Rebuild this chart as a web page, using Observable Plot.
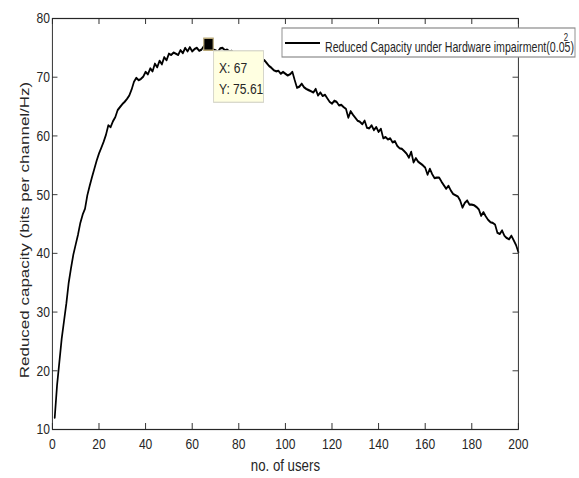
<!DOCTYPE html>
<html><head><meta charset="utf-8">
<script src="https://cdn.jsdelivr.net/npm/d3@7"></script>
<script src="https://cdn.jsdelivr.net/npm/@observablehq/plot@0.6"></script>
<style>
body{margin:0;background:#fff;}
#chart svg{display:block;}
</style></head><body><div id="chart"></div>
<script>
const users = [1,2,3,4,5,6,7,8,9,10,11,12,13,14,15,16,17,18,19,20,21,22,23,24,25,26,27,28,29,30,31,32,33,34,35,36,37,38,39,40,41,42,43,44,45,46,47,48,49,50,51,52,53,54,55,56,57,58,59,60,61,62,63,64,65,66,67,68,69,70,71,72,73,74,75,76,77,78,79,80,81,82,83,84,85,86,87,88,89,90,91,92,93,94,95,96,97,98,99,100,101,102,103,104,105,106,107,108,109,110,111,112,113,114,115,116,117,118,119,120,121,122,123,124,125,126,127,128,129,130,131,132,133,134,135,136,137,138,139,140,141,142,143,144,145,146,147,148,149,150,151,152,153,154,155,156,157,158,159,160,161,162,163,164,165,166,167,168,169,170,171,172,173,174,175,176,177,178,179,180,181,182,183,184,185,186,187,188,189,190,191,192,193,194,195,196,197,198,199,200];
const capacity = [
12.0,17.5,21.5,25.5,28.5,31.5,35.0,37.5,39.8,41.5,
43.2,45.2,46.6,47.6,49.9,51.5,53.0,54.4,55.8,57.0,
58.0,59.0,60.2,61.8,61.5,62.5,63.2,64.4,64.9,65.4,
65.8,66.3,66.9,67.9,69.2,69.9,69.5,69.7,70.1,70.9,
70.5,71.5,71.0,72.3,71.7,72.8,72.2,73.4,72.9,74.0,
73.8,74.2,74.0,73.8,74.6,74.1,75.0,74.4,75.1,74.4,
74.8,75.0,74.5,74.7,75.3,75.0,75.61,75.0,74.7,74.6,
74.3,74.9,75.0,74.6,74.7,74.4,74.5,74.0,73.8,73.9,
73.5,73.7,73.2,73.4,73.0,73.1,72.7,72.9,72.4,72.6,
72.9,72.4,71.9,71.6,71.2,71.0,71.1,70.6,70.9,70.6,
70.3,70.5,70.9,69.5,68.2,68.4,68.9,68.3,68.0,67.8,
67.6,67.4,68.0,66.9,67.4,66.8,67.0,66.4,65.8,65.5,
66.0,65.8,65.2,65.3,64.9,64.6,63.1,64.2,63.6,63.1,
62.6,62.4,62.0,62.6,61.4,61.3,61.8,61.0,61.5,60.7,
61.2,59.6,59.8,59.4,59.6,58.9,59.1,58.3,57.9,57.8,
57.4,57.0,56.3,57.3,55.5,56.2,55.6,55.3,55.0,54.6,
53.4,54.4,53.5,52.8,52.9,52.9,52.2,51.6,51.0,51.5,
50.7,50.1,49.9,49.7,49.0,47.8,48.6,49.0,48.3,48.3,
48.2,47.9,47.5,46.4,47.0,46.3,45.7,45.3,45.2,44.9,
43.5,43.3,43.9,43.0,42.6,42.4,43.0,42.2,41.4,40.2];
const xTicks = [0,20,40,60,80,100,120,140,160,180,200];
const yTicks = [10,20,30,40,50,60,70,80];
const xLabel = "no. of users";
const yLabel = "Reduced capacity (bits per channel/Hz)";
const seriesName = "Reduced Capacity under Hardware impairment(0.05)";
const seriesSup = "2";
const tipX = [67];
const tipY = [75.61];

const K = 0.78;            // horizontal compression of the original picture
const W = 579, H = 478;
const LW = W / K;
const mL = 52 / K, mR = (W - 518) / K, mT = 18, mB = 49;
const plotW = LW - mL - mR, plotH = H - mT - mB;
const ink = "#262626";
const font = "'Liberation Sans', Arial, Helvetica, sans-serif";

const data = users.map((u, i) => ({u, c: capacity[i]}));
const tip = tipX.map((x, i) => ({x, y: tipY[i]}));

const plot = Plot.plot({
  width: LW, height: H,
  marginLeft: mL, marginRight: mR, marginTop: mT, marginBottom: mB,
  style: {fontFamily: font, background: "#fff", color: ink, overflow: "visible"},
  x: {domain: [0, 200]},
  y: {domain: [10, 80]},
  marks: [
    Plot.line(data, {x: "u", y: "c", stroke: "#000", strokeWidth: 2.2}),
    Plot.frame({stroke: ink, strokeWidth: 1.2}),
    Plot.tickX(xTicks, {x: d => d, insetTop: plotH - 6, stroke: ink, strokeWidth: 1.2}),
    Plot.tickX(xTicks, {x: d => d, insetBottom: plotH - 6, stroke: ink, strokeWidth: 1.2}),
    Plot.tickY(yTicks, {y: d => d, insetRight: plotW - 7, stroke: ink}),
    Plot.tickY(yTicks, {y: d => d, insetLeft: plotW - 7, stroke: ink}),
    Plot.axisX(xTicks, {tickSize: 0, tickPadding: 8, fontSize: 15.5, label: null}),
    Plot.axisY(yTicks, {tickSize: 0, tickPadding: 3, fontSize: 15.5, label: null}),
    Plot.text([xLabel], {frameAnchor: "bottom", textAnchor: "middle", dy: 41, fontSize: 17, fill: ink}),
    Plot.text([yLabel], {frameAnchor: "left", textAnchor: "middle", rotate: -90, dx: -35, dy: 6, fontSize: 17, fill: ink}),
    Plot.dot(tip, {x: "x", y: "y", symbol: "square", r: 6.8, fill: "#000", stroke: "#b8a878", strokeWidth: 1.5})
  ]
});

const svg = d3.select(plot);
// data tip box anchored to the data point through the scales
const sx = plot.scale("x"), sy = plot.scale("y");
const px = sx.apply(tipX[0]), py = sy.apply(tipY[0]);
const g = svg.append("g").attr("font-family", font).attr("fill", ink).attr("text-anchor", "start");
g.append("rect").attr("x", px + 7).attr("y", py + 7).attr("width", 64).attr("height", 51.5)
  .attr("fill", "#ffffe1").attr("stroke", "#d4d4c8").attr("stroke-width", 1.2);
g.append("text").attr("x", px + 14).attr("y", py + 24).attr("dy", "0.35em").attr("font-size", 15.5)
  .text("X: " + tipX[0]);
g.append("text").attr("x", px + 14).attr("y", py + 45).attr("dy", "0.35em").attr("font-size", 15.5)
  .text("Y: " + tipY[0]);

// legend
const lg = svg.append("g").attr("font-family", font).attr("text-anchor", "start");
lg.append("rect").attr("x", 282 / K).attr("y", 28).attr("width", (575 - 282) / K).attr("height", 29)
  .attr("fill", "#fff").attr("stroke", "#8a8a8a").attr("stroke-width", 1.2);
lg.append("line").attr("x1", 285 / K).attr("x2", 320 / K).attr("y1", 43).attr("y2", 43)
  .attr("stroke", "#000").attr("stroke-width", 2.2);
lg.append("text").attr("x", 325 / K).attr("y", 52.5).attr("font-size", 14).attr("fill", ink)
  .attr("textLength", (574 - 325) / K).attr("lengthAdjust", "spacingAndGlyphs")
  .text(seriesName);
lg.append("text").attr("x", 566 / K).attr("y", 41).attr("font-size", 10).attr("fill", ink)
  .attr("text-anchor", "middle").text(seriesSup);

plot.setAttribute("width", W);
plot.setAttribute("height", H);
plot.setAttribute("preserveAspectRatio", "none");
plot.style.width = W + "px";
plot.style.height = H + "px";
plot.style.maxWidth = "none";
document.getElementById("chart").appendChild(plot);
</script>
</body></html>
